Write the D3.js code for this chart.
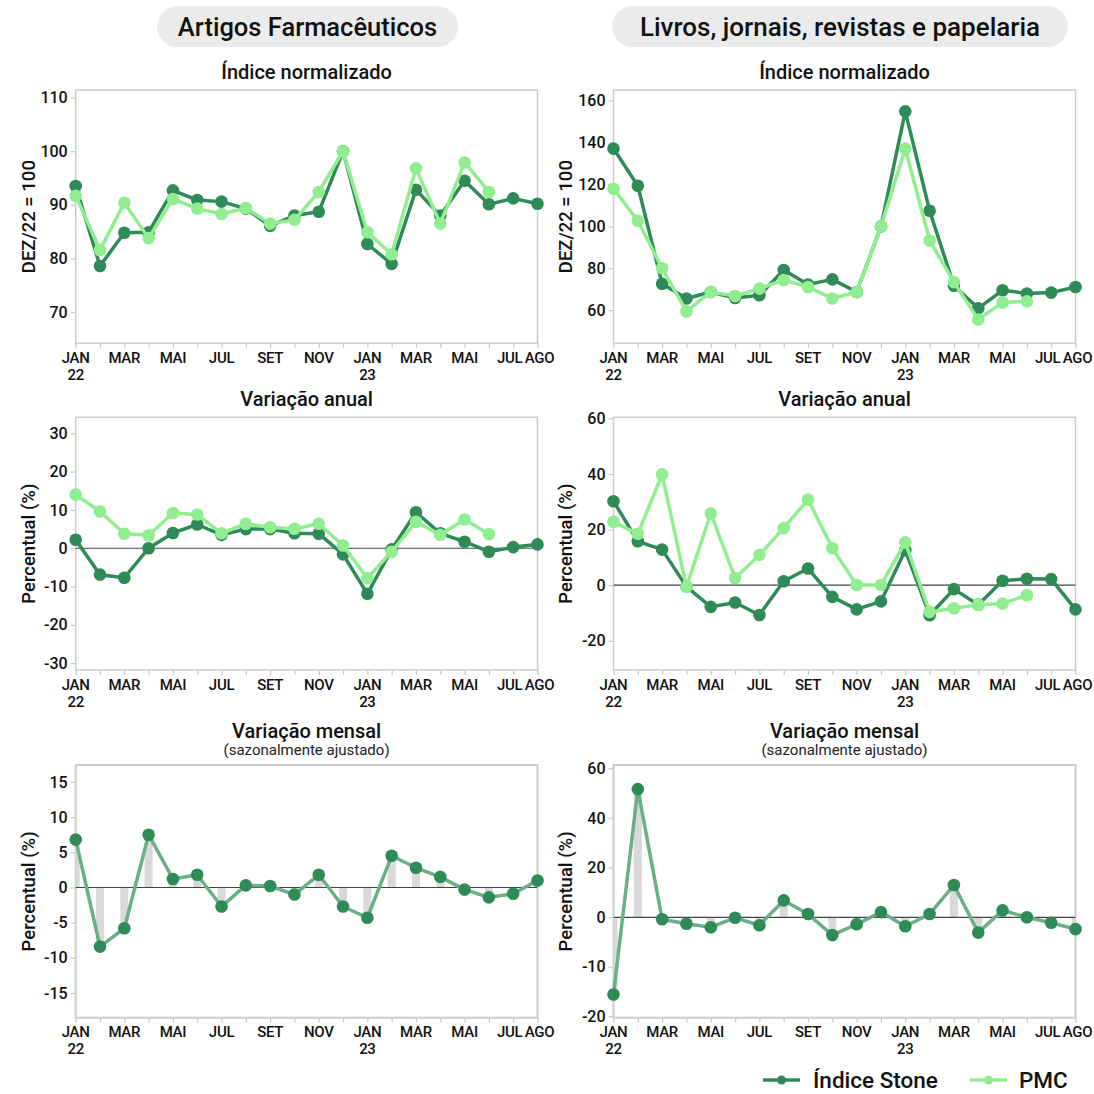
<!DOCTYPE html>
<html>
<head>
<meta charset="utf-8">
<script src="https://cdn.jsdelivr.net/npm/d3@7"></script>
<style>
  html, body { margin: 0; padding: 0; background: #fff; }
  svg { display: block; font-family: Roboto, "Noto Sans", sans-serif; }
</style>
</head>
<body>
<svg id="chart" width="1094" height="1094"></svg>
<script>
// ---------------- DATA ----------------
const months = ["JAN22","FEV22","MAR22","ABR22","MAI22","JUN22","JUL22","AGO22","SET22","OUT22","NOV22","DEZ22",
                "JAN23","FEV23","MAR23","ABR23","MAI23","JUN23","JUL23","AGO23"];
const xTickIndex = [0, 2, 4, 6, 8, 10, 12, 14, 16, 18, 19];
const xTickLabels = [["JAN","22"],["MAR"],["MAI"],["JUL"],["SET"],["NOV"],["JAN","23"],["MAR"],["MAI"],["JUL"],["AGO"]];

const seriesNames = ["Índice Stone", "PMC"];
const groupTitles = ["Artigos Farmacêuticos", "Livros, jornais, revistas e papelaria"];

// Artigos Farmacêuticos
const farmaIndiceStone = [93.5,78.6,84.8,84.9,92.7,90.9,90.6,89.3,86.1,88.0,88.7,100,82.7,79.0,92.8,88.0,94.5,90.1,91.2,90.2];
const farmaIndicePMC   = [91.7,81.6,90.4,83.8,91.1,89.3,88.3,89.4,86.5,87.2,92.4,100,84.9,80.8,96.8,86.5,97.9,92.4,null,null];
const farmaAnualStone  = [2.2,-6.9,-7.7,0.0,4.0,6.2,3.5,5.0,5.0,3.9,3.8,-1.6,-11.9,-0.3,9.4,3.9,1.7,-0.9,0.3,1.0];
const farmaAnualPMC    = [14.0,9.6,3.8,3.4,9.2,8.8,3.9,6.4,5.5,5.1,6.4,0.7,-7.8,-0.9,6.9,3.5,7.5,3.7,null,null];
const farmaMensal      = [6.8,-8.4,-5.8,7.5,1.2,1.8,-2.7,0.3,0.2,-1.0,1.8,-2.7,-4.3,4.5,2.8,1.5,-0.3,-1.4,-0.9,1.0];

// Livros, jornais, revistas e papelaria
const livrosIndiceStone = [137.1,119.4,72.6,65.6,68.7,65.8,67.1,79.2,72.3,74.7,68.7,100,154.9,107.5,71.7,60.9,69.5,68.0,68.4,71.1];
const livrosIndicePMC   = [118.0,102.7,80.0,59.4,68.7,66.8,70.3,74.4,71.1,65.6,68.7,100,137.1,93.3,73.4,55.5,63.7,64.2,null,null];
const livrosAnualStone  = [30.2,15.8,12.8,-0.5,-7.8,-6.2,-10.7,1.4,6.0,-4.2,-8.7,-5.8,12.6,-10.8,-1.4,-7.0,1.6,2.3,2.2,-8.7];
const livrosAnualPMC    = [22.8,18.5,39.9,-0.6,25.8,2.6,10.9,20.6,30.8,13.3,0.1,0.1,15.4,-9.6,-8.3,-7.0,-6.6,-3.6,null,null];
const livrosMensal      = [-15.6,51.6,-0.4,-1.3,-2.0,-0.1,-1.6,6.8,1.3,-3.6,-1.4,2.1,-1.8,1.3,13.0,-3.1,2.8,0.0,-1.1,-2.4];

// Axis ticks
const farmaIndiceTicks = [70,80,90,100,110];
const livrosIndiceTicks = [60,80,100,120,140,160];
const farmaAnualTicks = [-30,-20,-10,0,10,20,30];
const livrosAnualTicks = [-20,0,20,40,60];
const farmaMensalTicks = [-15,-10,-5,0,5,10,15];
const livrosMensalTicks = [-20,-10,0,20,40,60];

// ---------------- STYLE / LAYOUT ----------------
const DARK = "#2e8b57", LIGHT = "#90ee90", MENSAL_LINE = "#6aaf85", BAR = "#d9d9d9";
const cols = [{x0: 75.7, x1: 537.5, ytitle: 28.5, pill: [157, 458]}, {x0: 613.5, x1: 1075.5, ytitle: 566, pill: [612, 1068]}];
const rows = [{y0: 90, y1: 343.3}, {y0: 417.3, y1: 670}, {y0: 765, y1: 1017.7}];
// small label nudges so "JUL" and "AGO" don't collide (as in the reference)
const xLabelShift = {18: -3.5, 19: 2};

const svg = d3.select("#chart");

// Header pills
cols.forEach((c, i) => {
  svg.append("rect").attr("x", c.pill[0]).attr("y", 6).attr("width", c.pill[1] - c.pill[0]).attr("height", 41)
    .attr("rx", 20.5).attr("fill", "#ebebeb");
  svg.append("text").attr("x", (c.pill[0] + c.pill[1]) / 2).attr("y", 27).attr("dy", "0.35em")
    .attr("text-anchor", "middle").attr("font-size", i === 0 ? 25.5 : 26).attr("font-weight", 500).attr("fill", "#111")
    .text(groupTitles[i]);
});

let clipId = 0;
function panel(col, row, cfg) {
  const c = cols[col], r = rows[row];
  const x = d3.scaleLinear().domain([0, months.length - 1]).range([c.x0, c.x1]);
  const y = d3.scaleLinear().domain(cfg.domain).range(cfg.range ? cfg.range : [r.y1, r.y0]);
  const g = svg.append("g");
  const cid = "clip" + (clipId++);
  svg.append("clipPath").attr("id", cid).append("rect")
    .attr("x", c.x0).attr("y", r.y0).attr("width", c.x1 - c.x0).attr("height", r.y1 - r.y0);

  // Title(s)
  const cx = (c.x0 + c.x1) / 2;
  if (cfg.subtitle) {
    g.append("text").attr("x", cx).attr("y", r.y0 - 34).attr("dy", "0.35em").attr("text-anchor", "middle")
      .attr("font-size", 20).attr("font-weight", 500).attr("fill", "#111").text(cfg.title);
    g.append("text").attr("x", cx).attr("y", r.y0 - 15).attr("dy", "0.35em").attr("text-anchor", "middle")
      .attr("font-size", 15).attr("font-weight", 400).attr("fill", "#222").text(cfg.subtitle);
  } else {
    g.append("text").attr("x", cx).attr("y", r.y0 - 18).attr("dy", "0.35em").attr("text-anchor", "middle")
      .attr("font-size", 20).attr("font-weight", 500).attr("fill", "#111").text(cfg.title);
  }

  // Y axis
  const yAxis = d3.axisLeft(y).tickValues(cfg.ticks).tickSize(5).tickPadding(3).tickFormat(d => String(d));
  const ya = g.append("g").attr("transform", `translate(${c.x0},0)`).call(yAxis);
  ya.select(".domain").remove();
  ya.selectAll(".tick line").attr("stroke", "#c8c8c8").attr("stroke-width", 1.2);
  ya.selectAll(".tick text").attr("font-size", 16).attr("font-weight", 500).attr("fill", "#111")
    .attr("font-family", "Roboto, sans-serif");

  // Y title
  g.append("text").attr("transform", `translate(${c.ytitle},${(r.y0 + r.y1) / 2}) rotate(-90)`)
    .attr("dy", "0.35em").attr("text-anchor", "middle").attr("font-size", 18.5).attr("font-weight", 500)
    .attr("fill", "#111").text(cfg.ytitle);

  // X axis ticks (every month)
  const xAxis = d3.axisBottom(x).tickValues(d3.range(months.length)).tickSize(5).tickFormat("");
  const xa = g.append("g").attr("transform", `translate(0,${r.y1})`).call(xAxis);
  xa.select(".domain").remove();
  xa.selectAll(".tick line").attr("stroke", "#c8c8c8").attr("stroke-width", 1.2);
  // X labels
  xTickIndex.forEach((idx, k) => {
    const px = x(idx) + (xLabelShift[idx] || 0);
    const t = g.append("text").attr("x", px).attr("y", r.y1 + 14.5).attr("text-anchor", "middle")
      .attr("font-size", 15).attr("font-weight", 500).attr("fill", "#111").attr("letter-spacing", -0.3);
    xTickLabels[k].forEach((s, j) => {
      t.append("tspan").attr("x", px).attr("dy", j === 0 ? "0.35em" : 17).text(s);
    });
  });

  // Plot frame
  g.append("rect").attr("x", c.x0).attr("y", r.y0).attr("width", c.x1 - c.x0).attr("height", r.y1 - r.y0)
    .attr("fill", "none").attr("stroke", "#cccccc").attr("stroke-width", cfg.frameW || 1.5);

  const plot = g.append("g").attr("clip-path", `url(#${cid})`);
  const plotNoClip = g.append("g");

  if (cfg.bars) {
    plot.selectAll("rect.bar").data(cfg.bars).enter().append("rect").attr("class", "bar")
      .attr("x", (d, i) => x(i) - 4).attr("width", 8)
      .attr("y", d => Math.min(y(d), y(0))).attr("height", d => Math.abs(y(d) - y(0)))
      .attr("fill", BAR);
  }
  if (cfg.zero) {
    plot.append("line").attr("x1", c.x0).attr("x2", c.x1).attr("y1", y(0)).attr("y2", y(0))
      .attr("stroke", "#444").attr("stroke-width", 1.2);
  }

  cfg.series.forEach(s => {
    const line = d3.line().defined(d => d != null).x((d, i) => x(i)).y(d => y(d));
    plotNoClip.append("path").datum(s.values).attr("d", line).attr("fill", "none")
      .attr("stroke", s.lineColor).attr("stroke-width", 3.5).attr("stroke-linejoin", "round");
    plotNoClip.selectAll(null).data(s.values.map((v, i) => ({v, i})).filter(d => d.v != null)).enter()
      .append("circle").attr("cx", d => x(d.i)).attr("cy", d => y(d.v)).attr("r", 6.3)
      .attr("fill", s.dotColor);
  });
}

// Row 1: Índice normalizado
panel(0, 0, {title: "Índice normalizado", ytitle: "DEZ/22 = 100", domain: [64.2, 111.4], ticks: farmaIndiceTicks,
  series: [{values: farmaIndiceStone, lineColor: DARK, dotColor: DARK}, {values: farmaIndicePMC, lineColor: LIGHT, dotColor: LIGHT}]});
panel(1, 0, {title: "Índice normalizado", ytitle: "DEZ/22 = 100", domain: [44.2, 165.1], ticks: livrosIndiceTicks,
  series: [{values: livrosIndiceStone, lineColor: DARK, dotColor: DARK}, {values: livrosIndicePMC, lineColor: LIGHT, dotColor: LIGHT}]});

// Row 2: Variação anual
panel(0, 1, {title: "Variação anual", ytitle: "Percentual (%)", domain: [-31.8, 34.2], ticks: farmaAnualTicks, zero: true,
  series: [{values: farmaAnualStone, lineColor: DARK, dotColor: DARK}, {values: farmaAnualPMC, lineColor: LIGHT, dotColor: LIGHT}]});
panel(1, 1, {title: "Variação anual", ytitle: "Percentual (%)", domain: [-30.5, 60.4], ticks: livrosAnualTicks, zero: true,
  series: [{values: livrosAnualStone, lineColor: DARK, dotColor: DARK}, {values: livrosAnualPMC, lineColor: LIGHT, dotColor: LIGHT}]});

// Row 3: Variação mensal
panel(0, 2, {title: "Variação mensal", subtitle: "(sazonalmente ajustado)", ytitle: "Percentual (%)", domain: [-18.5, 17.4],
  ticks: farmaMensalTicks, zero: true, bars: farmaMensal, frameW: 2,
  series: [{values: farmaMensal, lineColor: MENSAL_LINE, dotColor: DARK}]});
panel(1, 2, {title: "Variação mensal", subtitle: "(sazonalmente ajustado)", ytitle: "Percentual (%)", domain: [-20.3, 0, 61.3],
  range: [rows[2].y1, 917.3, rows[2].y0], ticks: livrosMensalTicks, zero: true, bars: livrosMensal, frameW: 2,
  series: [{values: livrosMensal, lineColor: MENSAL_LINE, dotColor: DARK}]});

// Legend
const legend = svg.append("g").attr("transform", "translate(0,1080)");
[{name: seriesNames[0], color: DARK, x: 763, tx: 813}, {name: seriesNames[1], color: LIGHT, x: 970, tx: 1019}].forEach(l => {
  legend.append("line").attr("x1", l.x).attr("x2", l.x + 37).attr("y1", 0).attr("y2", 0)
    .attr("stroke", l.color).attr("stroke-width", 3.5);
  legend.append("circle").attr("cx", l.x + 18.5).attr("cy", 0).attr("r", 4.5).attr("fill", l.color);
  legend.append("text").attr("x", l.tx).attr("y", 0).attr("dy", "0.35em").attr("font-size", 22.5)
    .attr("font-weight", 500).attr("fill", "#111").text(l.name);
});
</script>
</body>
</html>
